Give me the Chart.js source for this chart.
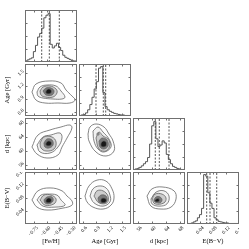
<!DOCTYPE html>
<html><head><meta charset="utf-8">
<script src="https://cdn.jsdelivr.net/npm/chart.js@4"></script>
<style>
html,body{margin:0;padding:0;background:#fff;width:249px;height:249px;overflow:hidden}
#wrap{position:relative;width:249px;height:249px;background:#fff}
canvas{position:absolute}
</style></head><body><div id="wrap"></div>
<script>
// ---------- labels & ticks ----------
const varLabels = ['[Fe/H]', 'Age [Gyr]', 'd [kpc]', 'E(B\u2212V)'];
const feHTicks = [-0.75, -0.60, -0.45, -0.30];
const feHTickLabels = ['\u22120.75', '\u22120.60', '\u22120.45', '\u22120.30'];
const ageTicks = [0.6, 0.9, 1.2, 1.5];
const ageTickLabels = ['0.6', '0.9', '1.2', '1.5'];
const dTicks = [56, 60, 64, 68];
const dTickLabels = ['56', '60', '64', '68'];
const ebvTicks = [0.04, 0.08, 0.12, 0.16];
const ebvTickLabels = ['0.04', '0.08', '0.12', '0.16'];
const histTicks = [0.25, 0.5, 0.75];

// ---------- 1D histograms (normalised counts) ----------
const feHBinStart = -0.86, feHBinWidth = 0.025;
const feHCounts = [0.02,0.02,0.04,0.06,0.08,0.20,0.32,0.48,0.55,0.65,0.85,0.90,0.93,0.34,0.27,0.31,0.36,0.28,0.22,0.13,0.09,0.07,0.05,0.03,0.02];
const feHQuantiles = [-0.661, -0.570, -0.451];

const ageBinStart = 0.5, ageBinWidth = 0.05;
const ageCounts = [0,0.01,0.02,0.03,0.06,0.12,0.22,0.36,0.52,0.66,0.92,0.95,0.45,0.18,0.12,0.09,0.07,0.05,0.04,0.03,0.02,0.02,0.01,0.01];
const ageQuantiles = [0.892, 1.061, 1.116];

const dBinStart = 54.5, dBinWidth = 0.6;
const dCounts = [0.01,0.01,0.02,0.03,0.05,0.08,0.12,0.16,0.24,0.50,0.85,0.93,0.60,0.45,0.48,0.56,0.52,0.30,0.20,0.12,0.07,0.05,0.03,0.02,0.01];
const dQuantiles = [60.93, 62.09, 64.89];

const ebvBinStart = 0.0, ebvBinWidth = 0.0064;
const ebvCounts = [0,0.01,0.01,0.02,0.04,0.06,0.12,0.18,0.30,0.95,0.92,0.60,0.40,0.30,0.12,0.08,0.05,0.04,0.03,0.02,0.02,0.01,0.01,0.01,0.01];
const ebvQuantiles = [0.0606, 0.0708, 0.0914];

// ---------- 2D contours (outer -> inner), [x, y] in data units ----------
const contFeHAge = [
  [[-0.777,1.054],[-0.729,1.238],[-0.574,1.308],[-0.431,1.262],[-0.371,1.100],[-0.300,0.961],[-0.262,0.869],[-0.324,0.800],[-0.467,0.800],[-0.622,0.800],[-0.729,0.869]],
  [[-0.717,1.054],[-0.681,1.169],[-0.598,1.215],[-0.490,1.192],[-0.431,1.077],[-0.383,0.938],[-0.419,0.892],[-0.526,0.892],[-0.645,0.915],[-0.705,0.961]],
  [[-0.681,1.077],[-0.645,1.169],[-0.562,1.192],[-0.490,1.123],[-0.479,1.031],[-0.526,0.938],[-0.622,0.938],[-0.669,0.985]],
  [[-0.645,1.077],[-0.610,1.146],[-0.550,1.146],[-0.514,1.077],[-0.538,0.985],[-0.610,0.985]],
  [[-0.610,1.077],[-0.586,1.123],[-0.550,1.100],[-0.550,1.031],[-0.586,1.008],[-0.610,1.031]]
];
const contFeHD = [
  [[-0.777,61.13],[-0.705,64.60],[-0.562,66.04],[-0.431,66.90],[-0.324,67.48],[-0.300,66.62],[-0.359,63.73],[-0.419,61.13],[-0.467,58.83],[-0.598,57.96],[-0.717,59.11]],
  [[-0.717,61.71],[-0.645,64.02],[-0.550,64.60],[-0.443,65.17],[-0.419,63.73],[-0.467,61.13],[-0.562,59.40],[-0.681,59.69]],
  [[-0.681,62.29],[-0.634,64.02],[-0.538,64.02],[-0.490,62.58],[-0.514,60.56],[-0.610,59.98],[-0.669,60.85]],
  [[-0.634,62.29],[-0.598,63.44],[-0.538,63.15],[-0.526,61.71],[-0.574,60.85],[-0.622,61.13]],
  [[-0.610,62.29],[-0.586,62.86],[-0.550,62.58],[-0.550,61.71],[-0.586,61.42],[-0.610,61.71]]
];
const contFeHEbv = [
  [[-0.777,0.074],[-0.705,0.102],[-0.562,0.111],[-0.419,0.102],[-0.359,0.086],[-0.300,0.071],[-0.300,0.058],[-0.407,0.049],[-0.598,0.043],[-0.717,0.052]],
  [[-0.717,0.074],[-0.669,0.089],[-0.598,0.092],[-0.479,0.089],[-0.431,0.074],[-0.383,0.058],[-0.502,0.052],[-0.645,0.055]],
  [[-0.681,0.074],[-0.634,0.089],[-0.550,0.089],[-0.490,0.077],[-0.514,0.062],[-0.622,0.058]],
  [[-0.634,0.074],[-0.598,0.083],[-0.538,0.083],[-0.526,0.071],[-0.574,0.062],[-0.622,0.065]],
  [[-0.610,0.074],[-0.586,0.080],[-0.550,0.077],[-0.550,0.068],[-0.586,0.065],[-0.610,0.068]]
];
const contAgeD = [
  [[0.708,64.88],[0.754,66.90],[0.892,67.77],[1.077,66.90],[1.192,64.88],[1.285,62.86],[1.308,59.98],[1.123,58.54],[0.892,59.69],[0.731,62.86]],
  [[0.823,65.75],[0.938,66.90],[1.054,65.46],[1.192,63.44],[1.238,61.13],[1.077,59.69],[0.938,60.56],[0.846,62.86]],
  [[0.892,63.73],[0.962,65.46],[1.054,64.31],[1.169,63.44],[1.215,61.71],[1.123,59.98],[0.962,60.56]],
  [[0.962,62.86],[1.031,63.73],[1.146,63.15],[1.169,61.42],[1.077,60.56],[0.985,61.13]],
  [[1.008,62.29],[1.054,62.86],[1.123,62.58],[1.123,61.42],[1.054,61.13],[1.008,61.42]]
];
const spotAgeD = [[0.915,65.17],[0.962,65.17],[0.962,64.60],[0.915,64.60]];
const contAgeEbv = [
  [[0.638,0.086],[0.731,0.117],[0.915,0.135],[1.123,0.132],[1.262,0.108],[1.308,0.080],[1.238,0.058],[1.054,0.046],[0.823,0.052],[0.685,0.068]],
  [[0.754,0.086],[0.823,0.108],[0.962,0.117],[1.123,0.111],[1.215,0.089],[1.215,0.068],[1.054,0.055],[0.846,0.065]],
  [[0.846,0.086],[0.915,0.102],[1.054,0.102],[1.169,0.086],[1.146,0.065],[0.962,0.065]],
  [[0.938,0.080],[1.008,0.089],[1.123,0.086],[1.146,0.071],[1.054,0.065],[0.962,0.068]],
  [[1.008,0.077],[1.054,0.080],[1.123,0.077],[1.123,0.068],[1.054,0.065],[1.008,0.068]]
];
const contDEbv = [
  [[58.54,0.086],[59.98,0.108],[62.87,0.114],[66.33,0.102],[66.91,0.077],[65.46,0.052],[62.58,0.046],[59.69,0.055]],
  [[59.69,0.077],[61.14,0.098],[63.44,0.102],[64.89,0.086],[64.31,0.062],[62.00,0.055],[59.98,0.062]],
  [[59.98,0.077],[60.85,0.092],[62.87,0.092],[64.02,0.080],[63.44,0.065],[60.85,0.062]],
  [[60.56,0.074],[61.14,0.083],[62.29,0.083],[62.87,0.074],[62.29,0.065],[60.85,0.068]],
  [[60.85,0.074],[61.42,0.078],[62.00,0.077],[62.00,0.069],[61.42,0.068],[60.85,0.069]]
];

// ---------- configuration built from the arrays ----------
const axes = [
  {label: varLabels[0], min: -0.86, max: -0.24, ticks: feHTicks, tickLabels: feHTickLabels,
   start: feHBinStart, width: feHBinWidth, counts: feHCounts, q: feHQuantiles},
  {label: varLabels[1], min: 0.5, max: 1.7, ticks: ageTicks, tickLabels: ageTickLabels,
   start: ageBinStart, width: ageBinWidth, counts: ageCounts, q: ageQuantiles},
  {label: varLabels[2], min: 54.5, max: 69.5, ticks: dTicks, tickLabels: dTickLabels,
   start: dBinStart, width: dBinWidth, counts: dCounts, q: dQuantiles},
  {label: varLabels[3], min: 0.0, max: 0.16, ticks: ebvTicks, tickLabels: ebvTickLabels,
   start: ebvBinStart, width: ebvBinWidth, counts: ebvCounts, q: ebvQuantiles}
];
const contours = {'1-0': contFeHAge, '2-0': contFeHD, '3-0': contFeHEbv,
                  '2-1': contAgeD, '3-1': contAgeEbv, '3-2': contDEbv};
const extraSpots = {'2-1': spotAgeD};

const P = 52, GAP = 2, X0 = 25, Y0 = 10, LM = 25, BM = 21;
const SERIF = '"Liberation Serif", "DejaVu Serif", serif';
const levelFill = [null, '#f1f1f1', '#cdcdcd', '#7a7a7a', '#181818'];
const lineCol = '#666';

const framePlugin = {
  id: 'frame',
  afterDatasetsDraw(chart, args, o) {
    const {ctx, chartArea: a} = chart;
    const sx = chart.scales.x, sy = chart.scales.y;
    ctx.save();
    ctx.strokeStyle = '#707070';
    ctx.lineWidth = 1;
    ctx.beginPath();
    (o.xt || []).forEach(v => {
      const p = Math.round(sx.getPixelForValue(v)) + 0.5;
      ctx.moveTo(p, a.bottom); ctx.lineTo(p, a.bottom - 2.5);
      ctx.moveTo(p, a.top); ctx.lineTo(p, a.top + 2.5);
    });
    (o.yt || []).forEach(v => {
      const p = Math.round(sy.getPixelForValue(v)) + 0.5;
      ctx.moveTo(a.left, p); ctx.lineTo(a.left + 2.5, p);
      ctx.moveTo(a.right, p); ctx.lineTo(a.right - 2.5, p);
    });
    ctx.stroke();
    ctx.strokeRect(a.left + 0.5, a.top + 0.5, a.width - 1, a.height - 1);
    ctx.restore();
  }
};

function toPts(arr) {
  const pts = arr.map(p => ({x: p[0], y: p[1]}));
  pts.push({x: arr[0][0], y: arr[0][1]});
  return pts;
}
function stepPts(ax) {
  const pts = [{x: ax.start, y: 0}];
  ax.counts.forEach((c, k) => pts.push({x: ax.start + k * ax.width, y: c}));
  const end = ax.start + ax.counts.length * ax.width;
  pts.push({x: end, y: ax.counts[ax.counts.length - 1]});
  pts.push({x: end, y: 0});
  return pts;
}

function xScale(ax, show) {
  const s = {
    type: 'linear', position: 'bottom', min: ax.min, max: ax.max, display: show,
    grid: {display: false, drawTicks: false}, border: {display: false}
  };
  if (show) {
    Object.assign(s, {
      afterBuildTicks: sc => { sc.ticks = ax.ticks.map(v => ({value: v})); },
      afterFit: sc => { sc.height = BM; sc.paddingLeft = 0; sc.paddingRight = 0; sc.paddingTop = 0; sc.paddingBottom = 0; },
      ticks: {autoSkip: false, minRotation: 45, maxRotation: 45, padding: 1, labelOffset: 3,
              font: {family: SERIF, size: 5}, color: '#000', callback: (v, i) => ax.tickLabels[i]},
      title: {display: true, text: ax.label, font: {family: SERIF, size: 6.5}, color: '#000', padding: {top: 0, bottom: 0}}
    });
  }
  return s;
}
function yScale(ax, show, isHist) {
  const s = {
    type: 'linear', position: 'left', min: isHist ? 0 : ax.min, max: isHist ? 1.0 : ax.max, display: show,
    grid: {display: false, drawTicks: false}, border: {display: false}
  };
  if (show) {
    Object.assign(s, {
      afterBuildTicks: sc => { sc.ticks = ax.ticks.map(v => ({value: v})); },
      afterFit: sc => { sc.width = LM; sc.paddingLeft = 0; sc.paddingRight = 0; sc.paddingTop = 0; sc.paddingBottom = 0; },
      ticks: {autoSkip: false, minRotation: 45, maxRotation: 45, padding: 2, labelOffset: -2,
              font: {family: SERIF, size: 5}, color: '#000', callback: (v, i) => ax.tickLabels[i]},
      title: {display: true, text: ax.label, font: {family: SERIF, size: 6.5}, color: '#000', padding: {top: 3, bottom: 0}}
    });
  }
  return s;
}

const wrap = document.getElementById('wrap');
for (let r = 0; r < 4; r++) {
  for (let c = 0; c <= r; c++) {
    const hasLeft = (c === 0 && r > 0), hasBottom = (r === 3);
    const w = P + (hasLeft ? LM : 0), h = P + (hasBottom ? BM : 0);
    const cv = document.createElement('canvas');
    cv.width = w; cv.height = h;
    cv.style.width = w + 'px'; cv.style.height = h + 'px';
    cv.style.left = (X0 + c * (P + GAP) - (hasLeft ? LM : 0)) + 'px';
    cv.style.top = (Y0 + r * (P + GAP)) + 'px';
    wrap.appendChild(cv);

    const ax = axes[c], ay = axes[r];
    const isHist = (r === c);
    const datasets = [];
    if (isHist) {
      datasets.push({data: stepPts(ax), stepped: 'after', borderColor: '#555', borderWidth: 1, fill: false, order: 1});
      ax.q.forEach(q => datasets.push({data: [{x: q, y: 0}, {x: q, y: 1}], borderColor: '#444',
        borderWidth: 0.9, borderDash: [2, 1.5], fill: false, order: 0}));
    } else {
      const lv = contours[r + '-' + c];
      lv.forEach((poly, i) => datasets.push({
        data: toPts(poly), tension: 0.4, borderColor: lineCol, borderWidth: 0.8,
        fill: levelFill[i] ? 'shape' : false, backgroundColor: levelFill[i] || 'rgba(0,0,0,0)',
        order: 10 - i
      }));
      const sp = extraSpots[r + '-' + c];
      if (sp) datasets.push({data: toPts(sp), tension: 0.4, borderColor: '#777', borderWidth: 0.5,
        fill: 'shape', backgroundColor: '#8a8a8a', order: 0});
    }
    new Chart(cv, {
      type: 'line',
      data: {datasets},
      options: {
        responsive: false, maintainAspectRatio: false, animation: false, devicePixelRatio: 1, events: [],
        layout: {padding: 0, autoPadding: false},
        elements: {point: {radius: 0}},
        plugins: {legend: {display: false}, tooltip: {enabled: false},
                  frame: {xt: ax.ticks, yt: isHist ? histTicks : ay.ticks}},
        scales: {x: xScale(ax, hasBottom), y: yScale(ay, hasLeft, isHist)}
      },
      plugins: [framePlugin]
    });
  }
}
</script>
</body></html>
